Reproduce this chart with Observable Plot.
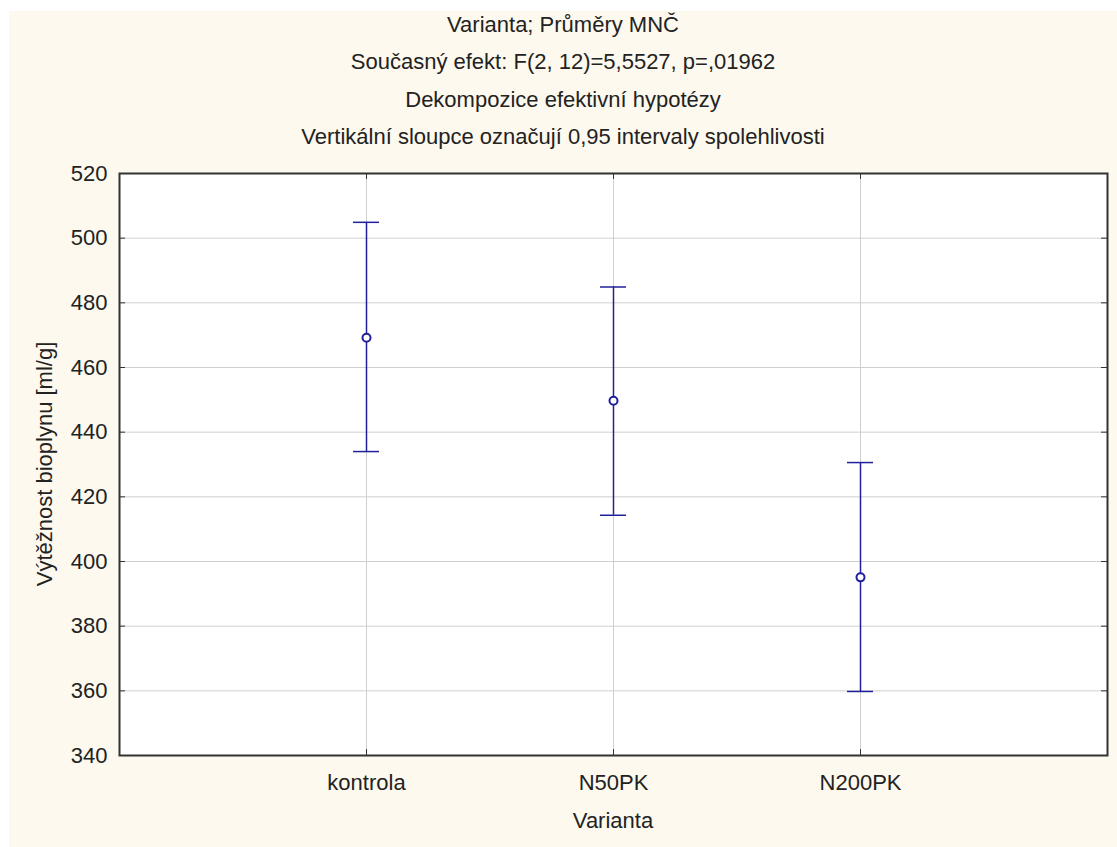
<!DOCTYPE html>
<html><head><meta charset="utf-8">
<script src="https://cdn.jsdelivr.net/npm/d3@7"></script>
<script src="https://cdn.jsdelivr.net/npm/@observablehq/plot@0.6"></script>
<style>
body{margin:0;background:#fff;font-family:"Liberation Sans",Arial,sans-serif;}
#wrap{position:relative;width:1117px;height:847px;overflow:hidden;}
#bg{position:absolute;left:9px;top:11px;width:1108px;height:836px;background:#fdf9ee;}
#title{position:absolute;left:9px;top:6px;width:1108px;text-align:center;font-size:22px;line-height:37.3px;color:#222;}
#chart{position:absolute;left:0;top:0;}
#xlabel{position:absolute;left:119px;width:988px;top:808px;text-align:center;font-size:22px;color:#222;}
#ylabel{position:absolute;left:45px;top:464px;width:500px;margin-left:-250px;text-align:center;font-size:22px;line-height:26px;margin-top:-13px;color:#222;transform:rotate(-90deg);}
</style></head>
<body><div id="wrap"><div id="bg"></div><div id="title"></div><div id="chart"></div><div id="xlabel"></div><div id="ylabel"></div></div>
<script>
const titleLines = ["Varianta; Průměry MNČ", "Současný efekt: F(2, 12)=5,5527, p=,01962", "Dekompozice efektivní hypotézy", "Vertikální sloupce označují 0,95 intervaly spolehlivosti"];
const xTitle = "Varianta";
const yTitle = "Výtěžnost bioplynu [ml/g]";
const categories = ["kontrola", "N50PK", "N200PK"];
const means = [469.2, 449.7, 395.1];
const lower = [434.0, 414.3, 359.8];
const upper = [504.9, 484.9, 430.6];
const yTicks = [340, 360, 380, 400, 420, 440, 460, 480, 500, 520];

const data = categories.map((c, i) => ({cat: c, mean: means[i], lo: lower[i], hi: upper[i]}));

document.getElementById("title").innerHTML = titleLines.map(t => `<div>${t}</div>`).join("");
document.getElementById("xlabel").textContent = xTitle;
document.getElementById("ylabel").textContent = yTitle;

const W = 1117, H = 847, mL = 119, mR = 10, mT = 173, mB = 92;
const pw = W - mL - mR, ph = H - mT - mB;
const navy = "#20209a";

const chart = Plot.plot({
  width: W, height: H,
  marginLeft: mL, marginRight: mR, marginTop: mT, marginBottom: mB,
  style: {background: "transparent", fontFamily: "'Liberation Sans', Arial, sans-serif", fontSize: "22px", color: "#222"},
  x: {type: "point", domain: categories, padding: 1, label: null},
  y: {domain: [340, 520], ticks: yTicks, label: null},
  marks: [
    Plot.frame({fill: "white", stroke: null}),
    Plot.gridY(yTicks, {stroke: "#cfcfcf", strokeOpacity: 1}),
    Plot.gridX(categories, {stroke: "#cfcfcf", strokeOpacity: 1}),
    Plot.axisY(yTicks, {anchor: "left", tickSize: 0, tickPadding: 12, fontSize: 22, label: null}),
    Plot.axisX(categories, {anchor: "bottom", tickSize: 0, tickPadding: 19, fontSize: 22, label: null}),
    Plot.ruleY(yTicks, {y: d => d, insetRight: pw - 6, stroke: "#333"}),
    Plot.ruleY(yTicks, {y: d => d, insetLeft: pw - 6, stroke: "#333"}),
    Plot.ruleX(categories, {x: d => d, insetTop: ph - 6, stroke: "#333"}),
    Plot.ruleX(categories, {x: d => d, insetBottom: ph - 6, stroke: "#333"}),
    Plot.frame({stroke: "#333", strokeWidth: 2}),
    Plot.ruleX(data, {x: "cat", y1: "lo", y2: "hi", stroke: navy, strokeWidth: 1.5}),
    Plot.ruleY(data, {x1: "cat", x2: "cat", y: "hi", insetLeft: -13, insetRight: -13, stroke: navy, strokeWidth: 1.5}),
    Plot.ruleY(data, {x1: "cat", x2: "cat", y: "lo", insetLeft: -13, insetRight: -13, stroke: navy, strokeWidth: 1.5}),
    Plot.dot(data, {x: "cat", y: "mean", r: 4, stroke: navy, strokeWidth: 2, fill: "white"})
  ]
});
document.getElementById("chart").appendChild(chart);
</script>
</body></html>
